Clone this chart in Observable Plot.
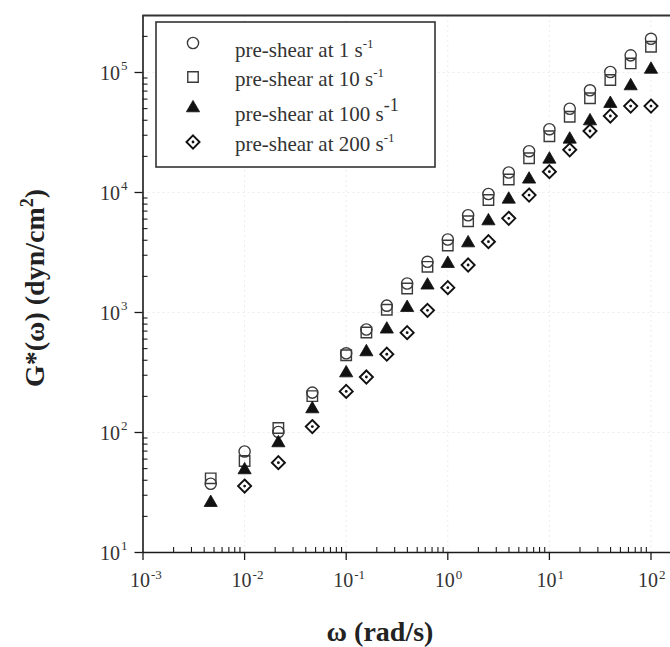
<!DOCTYPE html>
<html><head><meta charset="utf-8">
<script src="https://cdn.jsdelivr.net/npm/d3@7"></script>
<script src="https://cdn.jsdelivr.net/npm/@observablehq/plot@0.6"></script>
<style>
html,body{margin:0;padding:0;background:#fff;}
#wrap{position:relative;width:670px;height:647px;overflow:hidden;background:#fff;}
#wrap svg{position:absolute;left:0;top:0;}
</style></head><body><div id="wrap"></div>
<script>
// ---- data ----
const omega = [0.00464, 0.01, 0.0215, 0.0464, 0.1, 0.158, 0.251, 0.398, 0.631, 1, 1.585, 2.512, 3.98, 6.31, 10, 15.85, 25.1, 39.8, 63.1, 100];
const gShear1   = [37.4, 69.5, 101, 215, 457, 722, 1140, 1745, 2646, 4058, 6460, 9716, 14680, 22090, 33700, 49900, 71100, 101000, 139000, 191000];
const gShear10  = [41.5, 57.9, 109, 201, 440, 681, 1055, 1585, 2403, 3615, 5754, 8660, 12830, 19300, 29400, 42800, 61000, 86600, 119000, 164000];
const gShear100 = [26, 48.7, 81.8, 157, 313, 469, 725, 1097, 1687, 2553, 3793, 5788, 8770, 12880, 18900, 27740, 39400, 55000, 77200, 106000];
const gShear200 = [null, 35.8, 56, 112, 220, 290, 449, 679, 1042, 1610, 2488, 3890, 6095, 9520, 14900, 22700, 32540, 43400, 52500, 52500];
const legendRates = ["1", "10", "100", "200"];
const xTickExps = [-3, -2, -1, 0, 1, 2];
const yTickExps = [1, 2, 3, 4, 5];
const xTitle = "ω (rad/s)";

// ---- build tables ----
const rows = (vals) => omega.map((w, i) => ({w, g: vals[i]})).filter(d => d.g != null);
const r1 = rows(gShear1), r10 = rows(gShear10), r100 = rows(gShear100), r200 = rows(gShear200);

const X_MAX = Math.pow(10, 2.192), Y_MAX = Math.pow(10, 5.475);
const minors = (lo, hi) => { const out = []; for (let e = lo; e <= hi; e++) for (let k = 2; k <= 9; k++) out.push(k * Math.pow(10, e)); return out; };
const xMinor = minors(-3, 2).filter(v => v < X_MAX);
const yMinor = minors(1, 5).filter(v => v < Y_MAX);
const xMajor = xTickExps.map(e => Math.pow(10, e));
const yMajor = yTickExps.map(e => Math.pow(10, e));

const SERIF = "Liberation Serif, Times New Roman, serif";
const ink = "#1a1a1a";

const chart = Plot.plot({
  width: 670, height: 647,
  marginLeft: 142.5, marginRight: 0, marginTop: 15, marginBottom: 95,
  x: {type: "log", domain: [1e-3, X_MAX], axis: null},
  y: {type: "log", domain: [10, Y_MAX], axis: null},
  style: {fontFamily: SERIF, background: "white", overflow: "visible"},
  marks: [
    Plot.ruleX(xMajor.slice(1), {stroke: "#000", strokeOpacity: 0.08, strokeDasharray: "2,3"}),
    Plot.ruleY(yMajor.slice(1), {stroke: "#000", strokeOpacity: 0.08, strokeDasharray: "2,3"}),
    Plot.ruleX([1e-3], {stroke: ink, strokeWidth: 1.6}),
    Plot.ruleY([10], {stroke: ink, strokeWidth: 1.6}),
    Plot.ruleY([Y_MAX], {stroke: "#333", strokeWidth: 2.2}),
    Plot.axisX(xMajor, {anchor: "bottom", tickSize: 8, tickFormat: () => "", label: null, stroke: ink, strokeWidth: 1.3}),
    Plot.axisX(xMinor, {anchor: "bottom", tickSize: -5, tickFormat: () => "", label: null, stroke: ink, strokeWidth: 1.1}),
    Plot.axisY(yMajor, {anchor: "left", tickSize: 8, tickFormat: () => "", label: null, stroke: ink, strokeWidth: 1.3}),
    Plot.axisY(yMinor, {anchor: "left", tickSize: -5, tickFormat: () => "", label: null, stroke: ink, strokeWidth: 1.1}),
    // x tick labels
    Plot.text(xTickExps, {x: e => Math.pow(10, e), frameAnchor: "bottom", text: () => "10", dy: 34, dx: -3, fontSize: 20, fill: "#333"}),
    Plot.text(xTickExps, {x: e => Math.pow(10, e), frameAnchor: "bottom", text: e => e < 0 ? "-" + (-e) : String(e), dy: 26, dx: 8, textAnchor: "start", fontSize: 13, fill: "#333"}),
    // y tick labels
    Plot.text(yTickExps, {y: e => Math.pow(10, e), frameAnchor: "left", text: () => "10", dx: -23, dy: 1, textAnchor: "end", fontSize: 20, fill: "#333"}),
    Plot.text(yTickExps, {y: e => Math.pow(10, e), frameAnchor: "left", text: e => String(e), dx: -22, dy: -7, textAnchor: "start", fontSize: 13, fill: "#333"}),
    // data
    Plot.dot(r1, {x: "w", y: "g", symbol: d3.symbolCircle, r: 5.6, stroke: "#3a3a3a", strokeWidth: 1.4, fill: "none"}),
    Plot.dot(r10, {x: "w", y: "g", symbol: d3.symbolSquare, r: 5.9, stroke: "#3a3a3a", strokeWidth: 1.4, fill: "none"}),
    Plot.dot(r100, {x: "w", y: "g", symbol: d3.symbolTriangle, r: 4.9, stroke: "#111", strokeWidth: 0.8, fill: "#111"}),
    Plot.dot(r200, {x: "w", y: "g", symbol: d3.symbolDiamond2, r: 5.9, stroke: "#111", strokeWidth: 1.9, fill: "none"}),
    Plot.dot(r200, {x: "w", y: "g", r: 1.4, fill: "#111", stroke: "none"})
  ]
});
const wrap = document.getElementById("wrap");
wrap.appendChild(chart);

// ---- overlay: legend and axis titles ----
const svg = d3.select(wrap).append("svg").attr("width", 670).attr("height", 647)
  .attr("font-family", SERIF).style("pointer-events", "none");

const box = svg.append("g");
box.append("rect").attr("x", 156).attr("y", 22).attr("width", 279).attr("height", 145)
  .attr("fill", "white").attr("stroke", "#333").attr("stroke-width", 1.6);

const legendSpec = [
  {sym: d3.symbolCircle, r: 5.6, fill: "none", stroke: "#3a3a3a", sw: 1.4, my: 43, ty: 57, supSize: 13, supDy: -9},
  {sym: d3.symbolSquare, r: 5.9, fill: "none", stroke: "#3a3a3a", sw: 1.4, my: 77, ty: 86, supSize: 13, supDy: -9},
  {sym: d3.symbolTriangle, r: 4.9, fill: "#111", stroke: "#111", sw: 0.8, my: 108, ty: 121, supSize: 18, supDy: -10},
  {sym: d3.symbolDiamond2, r: 5.9, fill: "none", stroke: "#111", sw: 1.9, my: 142, ty: 151, supSize: 13, supDy: -9, dot: true}
];
legendSpec.forEach((s, i) => {
  box.append("path").attr("d", d3.symbol(s.sym, Math.PI * s.r * s.r)())
    .attr("transform", `translate(193,${s.my})`)
    .attr("fill", s.fill).attr("stroke", s.stroke).attr("stroke-width", s.sw);
  if (s.dot) box.append("circle").attr("cx", 193).attr("cy", s.my).attr("r", 1.4).attr("fill", "#111");
  const t = box.append("text").attr("x", 235).attr("y", s.ty).attr("font-size", 21).attr("fill", "#333");
  t.append("tspan").text(`pre-shear at ${legendRates[i]} s`);
  t.append("tspan").attr("dy", s.supDy).attr("font-size", s.supSize).text("-1");
});

// x title
svg.append("text").attr("x", 380).attr("y", 641).attr("text-anchor", "middle")
  .attr("font-size", 28).attr("font-weight", "bold").attr("fill", "#222").text(xTitle);

// y title
const yt = svg.append("text").attr("transform", "translate(44,288) rotate(-90)").attr("text-anchor", "middle")
  .attr("font-size", 28).attr("font-weight", "bold").attr("fill", "#222");
yt.append("tspan").text("G*(ω) (dyn/cm");
yt.append("tspan").attr("dy", -11).attr("font-size", 18).text("2");
yt.append("tspan").attr("dy", 11).text(")");
</script>
</body></html>
